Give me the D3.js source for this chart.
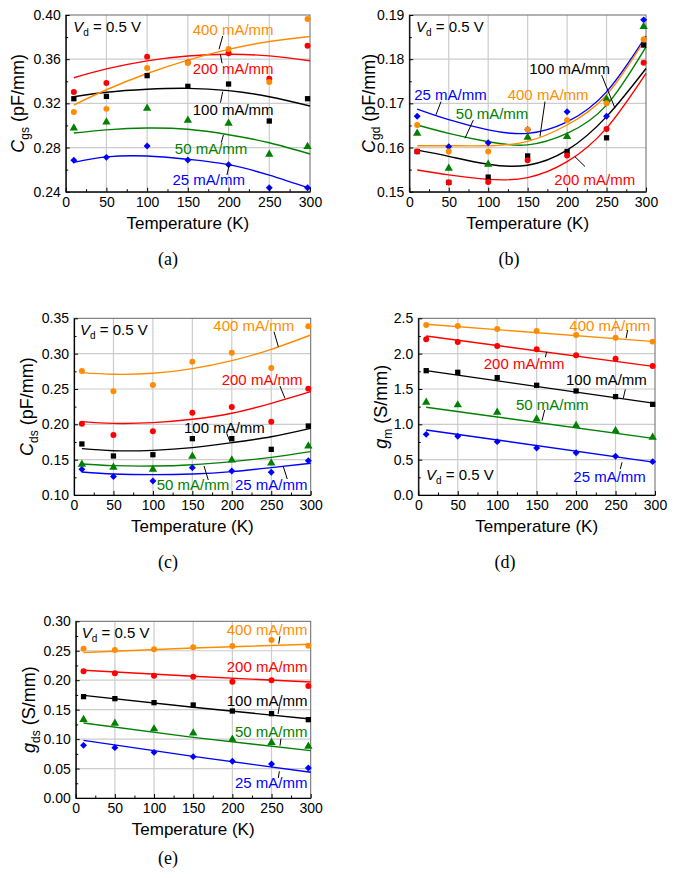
<!DOCTYPE html>
<html>
<head>
<meta charset="utf-8">
<script src="https://cdn.jsdelivr.net/npm/d3@7"></script>
<style>
  body { margin: 0; background: #fff; }
  text { white-space: pre; }
</style>
</head>
<body>
<div id="app"></div>
<script>
// temperatures (K)
const tempMeas = [10, 50, 100, 150, 200, 250, 297];
const tempFit = [10, 50, 100, 150, 200, 250, 300];
const tempLin = [10, 300];
const tempFitE = [10, 150, 300];
const xTicks = [0, 50, 100, 150, 200, 250, 300];
const xMinor = [25, 75, 125, 175, 225, 275];

// series order: 25, 50, 100, 200, 400 mA/mm
const series = ['25 mA/mm', '50 mA/mm', '100 mA/mm', '200 mA/mm', '400 mA/mm'];
const seriesColors = ['#0000ff', '#008000', '#000000', '#ff0000', '#ff8c00'];

// (a) Cgs (pF/mm)
const cgsMeas = [
    [0.2684, 0.2711, 0.2814, 0.2687, 0.2645, 0.2436, 0.2436],
    [0.2977, 0.3031, 0.3155, 0.3046, 0.3019, 0.2738, 0.2808],
    [0.3242, 0.3263, 0.3451, 0.3354, 0.3375, 0.3040, 0.3242],
    [0.3303, 0.3384, 0.3623, 0.3571, 0.3653, 0.3423, 0.3722],
    [0.3121, 0.3150, 0.3520, 0.3565, 0.3692, 0.3393, 0.3964]
];
const cgsFit = [
    [0.2666, 0.2715, 0.2723, 0.2693, 0.2645, 0.2550, 0.2430],
    [0.2931, 0.2960, 0.2977, 0.2965, 0.2916, 0.2843, 0.2741],
    [0.3260, 0.3300, 0.3327, 0.3336, 0.3315, 0.3260, 0.3176],
    [0.3432, 0.3512, 0.3585, 0.3629, 0.3644, 0.3630, 0.3586],
    [0.3185, 0.3323, 0.3470, 0.3592, 0.3689, 0.3760, 0.3805]
];
const cgsTicks = [0.24, 0.28, 0.32, 0.36, 0.40];

// (b) Cgd (pF/mm)
const cgdMeas = [
    [0.1671, 0.1602, 0.1611, 0.1641, 0.1681, 0.1671, 0.1889],
    [0.1632, 0.1553, 0.1562, 0.1623, 0.1625, 0.1710, 0.1874],
    [0.1591, 0.1521, 0.1533, 0.1581, 0.1591, 0.1622, 0.1832],
    [0.1591, 0.1521, 0.1522, 0.1571, 0.1582, 0.1642, 0.1792],
    [0.1651, 0.1591, 0.1591, 0.1641, 0.1662, 0.1700, 0.1845]
];
const cgdFit = [
    [0.1687, 0.1663, 0.1640, 0.1632, 0.1658, 0.1726, 0.1852],
    [0.1651, 0.1632, 0.1613, 0.1606, 0.1632, 0.1696, 0.1828],
    [0.1594, 0.1580, 0.1562, 0.1560, 0.1594, 0.1670, 0.1779],
    [0.1549, 0.1538, 0.1528, 0.1532, 0.1568, 0.1644, 0.1768],
    [0.1604, 0.1604, 0.1604, 0.1614, 0.1651, 0.1719, 0.1848]
];
const cgdTicks = [0.15, 0.16, 0.17, 0.18, 0.19];

// (c) Cds (pF/mm)
const cdsMeas = [
    [0.1363, 0.1260, 0.1198, 0.1387, 0.1340, 0.1321, 0.1486],
    [0.1434, 0.1392, 0.1363, 0.1547, 0.1495, 0.1453, 0.1693],
    [0.1722, 0.1552, 0.1570, 0.1797, 0.1797, 0.1646, 0.1976],
    [0.2009, 0.1849, 0.1901, 0.2165, 0.2245, 0.2035, 0.2505],
    [0.2755, 0.2467, 0.2557, 0.2887, 0.3014, 0.2797, 0.3387]
];
const cdsFit = [
    [0.1325, 0.1297, 0.1288, 0.1297, 0.1330, 0.1387, 0.1448],
    [0.1439, 0.1415, 0.1410, 0.1429, 0.1472, 0.1533, 0.1613],
    [0.1656, 0.1627, 0.1632, 0.1670, 0.1741, 0.1825, 0.1943],
    [0.2038, 0.2014, 0.2024, 0.2071, 0.2156, 0.2297, 0.2462],
    [0.2731, 0.2708, 0.2722, 0.2788, 0.2901, 0.3061, 0.3264]
];
const cdsTicks = [0.10, 0.15, 0.20, 0.25, 0.30, 0.35];

// (d) gm (S/mm)
const gmMeas = [
    [0.858, 0.830, 0.755, 0.665, 0.599, 0.547, 0.472],
    [1.311, 1.274, 1.170, 1.075, 0.981, 0.910, 0.816],
    [1.759, 1.736, 1.660, 1.552, 1.472, 1.392, 1.283],
    [2.203, 2.165, 2.108, 2.061, 1.976, 1.929, 1.825],
    [2.406, 2.392, 2.349, 2.321, 2.264, 2.226, 2.170]
];
const gmFit = [
    [0.920, 0.462],
    [1.241, 0.797],
    [1.759, 1.297],
    [2.250, 1.816],
    [2.415, 2.170]
];
const gmTicks = [0.0, 0.5, 1.0, 1.5, 2.0, 2.5];

// (e) gds (S/mm)
const gdsMeas = [
    [0.0894, 0.0855, 0.0775, 0.0702, 0.0623, 0.0577, 0.0509],
    [0.1330, 0.1268, 0.1172, 0.1104, 0.0996, 0.0940, 0.0877],
    [0.1721, 0.1687, 0.1619, 0.1579, 0.1477, 0.1432, 0.1330],
    [0.2151, 0.2117, 0.2077, 0.2060, 0.1975, 0.1998, 0.1902],
    [0.2536, 0.2513, 0.2525, 0.2558, 0.2581, 0.2683, 0.2587]
];
const gdsFit = [
    [0.0979, 0.0707, 0.0436],
    [0.1274, 0.1030, 0.0804],
    [0.1743, 0.1540, 0.1342],
    [0.2168, 0.2066, 0.1970],
    [0.2470, 0.2547, 0.2610]
];
const gdsTicks = [0.00, 0.05, 0.10, 0.15, 0.20, 0.25, 0.30];

// label anchors [T, value] and leader lines [T1, v1, T2, v2], same series order
const cgsLabels = [[131, 0.2506], [134, 0.2793], [156, 0.3146], [156, 0.3517], [156, 0.3864]];
const cgsLeaders = [[201, 0.2650, 198, 0.2551], [193.7, 0.2913, 191, 0.2844], [192.8, 0.3306, 190, 0.3206], [190, 0.3640, 192, 0.3563], [192.8, 0.3810, 188.3, 0.3690]];
const cgdLabels = [[6.3, 0.1719], [59, 0.1677], [152, 0.1779], [183.8, 0.1526], [124.7, 0.1719]];
const cgdLeaders = [[40.2, 0.1704, 33.8, 0.1674], [81.1, 0.1662, 70.6, 0.1621], [243.8, 0.1764, 260.7, 0.1689], [222.7, 0.1557, 210, 0.1579], [172, 0.1704, 165.6, 0.1625]];
const cdsLabels = [[204, 0.1151], [104.8, 0.1151], [139.4, 0.1952], [187.2, 0.2627], [176.6, 0.3391]];
const cdsLeaders = [[265.3, 0.1400, 270.3, 0.1226], [164.8, 0.1410, 170.2, 0.1212], [193.5, 0.1873, 197.7, 0.1754], [261, 0.2542, 267.4, 0.2368], [253.5, 0.3311, 259, 0.3098]];
const gmLabels = [[196.5, 0.259], [123.8, 1.273], [187.2, 1.627], [82.9, 1.863], [191.4, 2.391]];
const gmLeaders = [[258.2, 0.463, 256, 0.368], [160.2, 1.203, 156.8, 1.051], [262.4, 1.495, 259.8, 1.368], [162.7, 2.027, 161, 1.948], [265.4, 2.334, 263.3, 2.217]];
const gdsLabels = [[203.4, 0.0255], [203.4, 0.1121], [192.8, 0.1659], [192.8, 0.2236], [192.8, 0.2857]];
const gdsLeaders = [[260, 0.0453, 258.6, 0.034], [262, 0.1007, 260.8, 0.0888], [260, 0.1557, 258.3, 0.1426], null, [260.8, 0.2745, 259.2, 0.262]];

const sans = 'Liberation Sans, Arial, sans-serif';
const serif = 'Liberation Serif, Times New Roman, serif';

const panels = [
    { meas: cgsMeas, fit: cgsFit, fitT: tempFit, ticks: cgsTicks, fmt: '.2f', box: [65.7, 15, 244.3, 176.7],
      sym: 'C', sub: 'gs', unit: ' (pF/mm)', titleX: 18, caption: '(a)', capX: 168, capY: 265,
      labels: cgsLabels, leaders: cgsLeaders, vd: [9.3, 0.3894] },
    { meas: cgdMeas, fit: cgdFit, fitT: tempFit, ticks: cgdTicks, fmt: '.2f', box: [409.3, 15, 236.7, 176.7],
      sym: 'C', sub: 'gd', unit: ' (pF/mm)', titleX: 369, caption: '(b)', capX: 509, capY: 265,
      labels: cgdLabels, leaders: cgdLeaders, vd: [8.5, 0.1874] },
    { meas: cdsMeas, fit: cdsFit, fitT: tempFit, ticks: cdsTicks, fmt: '.2f', box: [74, 318.3, 236.7, 176.7],
      sym: 'C', sub: 'ds', unit: ' (pF/mm)', titleX: 27, caption: '(c)', capX: 168, capY: 568,
      labels: cdsLabels, leaders: cdsLeaders, vd: [7.6, 0.3344] },
    { meas: gmMeas, fit: gmFit, fitT: tempLin, ticks: gmTicks, fmt: '.1f', box: [418.3, 318.3, 236.7, 176.7],
      sym: 'g', sub: 'm', unit: ' (S/mm)', titleX: 381, caption: '(d)', capX: 505, capY: 568,
      labels: gmLabels, leaders: gmLeaders, vd: [9.8, 0.283] },
    { meas: gdsMeas, fit: gdsFit, fitT: tempFitE, ticks: gdsTicks, fmt: '.2f', box: [75.7, 621.3, 235, 176.7],
      sym: 'g', sub: 'ds', unit: ' (S/mm)', titleX: 29, caption: '(e)', capX: 168, capY: 864,
      labels: gdsLabels, leaders: gdsLeaders, vd: [7.7, 0.2813] }
];

const svg = d3.select('#app').append('svg')
    .attr('width', 676)
    .attr('height', 878)
    .style('display', 'block')
    .style('background', '#fff');

// marker shapes: diamond, triangle, square, circle, circle
function markerPath(i) {
    if (i === 0) return d3.symbol(d3.symbolSquare, 24)();
    if (i === 1) return d3.symbol(d3.symbolTriangle, 30)();
    if (i === 2) return d3.symbol(d3.symbolSquare, 28)();
    return d3.symbol(d3.symbolCircle, 28)();
}

function drawPanel(p) {
    const [left, top, w, h] = p.box;
    const x = d3.scaleLinear().domain([0, 300]).range([left, left + w]);
    const y = d3.scaleLinear().domain([p.ticks[0], p.ticks[p.ticks.length - 1]]).range([top + h, top]);
    const yMinor = d3.pairs(p.ticks).map(([a, b]) => (a + b) / 2);
    const g = svg.append('g');

    // grid
    g.append('g').selectAll('line').data(xTicks.slice(1, -1)).join('line')
        .attr('x1', d => x(d)).attr('x2', d => x(d))
        .attr('y1', top).attr('y2', top + h)
        .attr('stroke', '#cccccc').attr('stroke-width', 1.2);
    g.append('g').selectAll('line').data(p.ticks.slice(1, -1)).join('line')
        .attr('y1', d => y(d)).attr('y2', d => y(d))
        .attr('x1', left).attr('x2', left + w)
        .attr('stroke', '#cccccc').attr('stroke-width', 1.2);

    // frame
    g.append('rect')
        .attr('x', left).attr('y', top).attr('width', w).attr('height', h)
        .attr('fill', 'none').attr('stroke', '#666').attr('stroke-width', 1);

    // fitted curves
    const line = d3.line().x(d => x(d[0])).y(d => y(d[1])).curve(d3.curveNatural);
    p.fit.forEach((vals, i) => {
        g.append('path')
            .datum(d3.zip(p.fitT, vals))
            .attr('d', line)
            .attr('fill', 'none')
            .attr('stroke', seriesColors[i])
            .attr('stroke-width', 1.4);
    });

    // measured points
    p.meas.forEach((vals, i) => {
        g.append('g').selectAll('path')
            .data(d3.zip(tempMeas, vals))
            .join('path')
            .attr('transform', d => `translate(${x(d[0])},${y(d[1])})` + (i === 0 ? ' rotate(45)' : ''))
            .attr('d', markerPath(i))
            .attr('fill', seriesColors[i]);
    });

    // axes
    const xAx = g.append('g')
        .attr('transform', `translate(0,${top + h})`)
        .call(d3.axisBottom(x).tickValues(xTicks).tickSizeInner(-4).tickSizeOuter(0).tickPadding(5));
    g.append('g')
        .attr('transform', `translate(0,${top + h})`)
        .call(d3.axisBottom(x).tickValues(xMinor).tickSize(-2.5).tickFormat(''))
        .select('.domain').remove();
    const yAx = g.append('g')
        .attr('transform', `translate(${left},0)`)
        .call(d3.axisLeft(y).tickValues(p.ticks).tickFormat(d3.format(p.fmt)).tickSizeInner(-4).tickSizeOuter(0).tickPadding(5));
    g.append('g')
        .attr('transform', `translate(${left},0)`)
        .call(d3.axisLeft(y).tickValues(yMinor).tickSize(-2.5).tickFormat(''))
        .select('.domain').remove();

    g.selectAll('.domain').attr('stroke', '#000').attr('stroke-width', 1.2);
    g.selectAll('.tick line').attr('stroke', '#000');
    [xAx, yAx].forEach(a => a.attr('font-size', 14).attr('font-family', sans)
        .selectAll('text').attr('fill', '#000'));

    // series labels and leaders
    p.labels.forEach((pos, i) => {
        g.append('text')
            .attr('x', x(pos[0]))
            .attr('y', y(pos[1]))
            .attr('dy', '0.35em')
            .attr('font-family', sans)
            .attr('font-size', 15)
            .attr('fill', seriesColors[i])
            .text(series[i]);
    });
    p.leaders.forEach(l => {
        if (!l) return;
        g.append('line')
            .attr('x1', x(l[0])).attr('y1', y(l[1]))
            .attr('x2', x(l[2])).attr('y2', y(l[3]))
            .attr('stroke', '#000').attr('stroke-width', 1);
    });

    // Vd annotation
    const vd = g.append('text')
        .attr('x', x(p.vd[0]))
        .attr('y', y(p.vd[1]))
        .attr('dy', '0.35em')
        .attr('font-family', sans)
        .attr('font-size', 15)
        .attr('fill', '#000');
    vd.append('tspan').attr('font-style', 'italic').text('V');
    vd.append('tspan').attr('font-size', 10).attr('dy', 4).text('d');
    vd.append('tspan').attr('dy', -4).text(' = 0.5 V');

    // axis titles
    g.append('text')
        .attr('x', left + w / 2)
        .attr('y', top + h + 37)
        .attr('text-anchor', 'middle')
        .attr('font-family', sans)
        .attr('font-size', 17)
        .text('Temperature (K)');

    const yt = g.append('text')
        .attr('transform', `translate(${p.titleX},${top + h / 2}) rotate(-90)`)
        .attr('text-anchor', 'middle')
        .attr('dy', '0.35em')
        .attr('font-family', sans)
        .attr('font-size', 18);
    yt.append('tspan').attr('font-style', 'italic').text(p.sym);
    yt.append('tspan').attr('font-size', 12).attr('dy', 5).text(p.sub);
    yt.append('tspan').attr('dy', -5).text('\u00a0' + p.unit.trim());

    // caption
    g.append('text')
        .attr('x', p.capX)
        .attr('y', p.capY)
        .attr('text-anchor', 'middle')
        .attr('font-family', serif)
        .attr('font-size', 18)
        .text(p.caption);
}

panels.forEach(drawPanel);
</script>
</body>
</html>
